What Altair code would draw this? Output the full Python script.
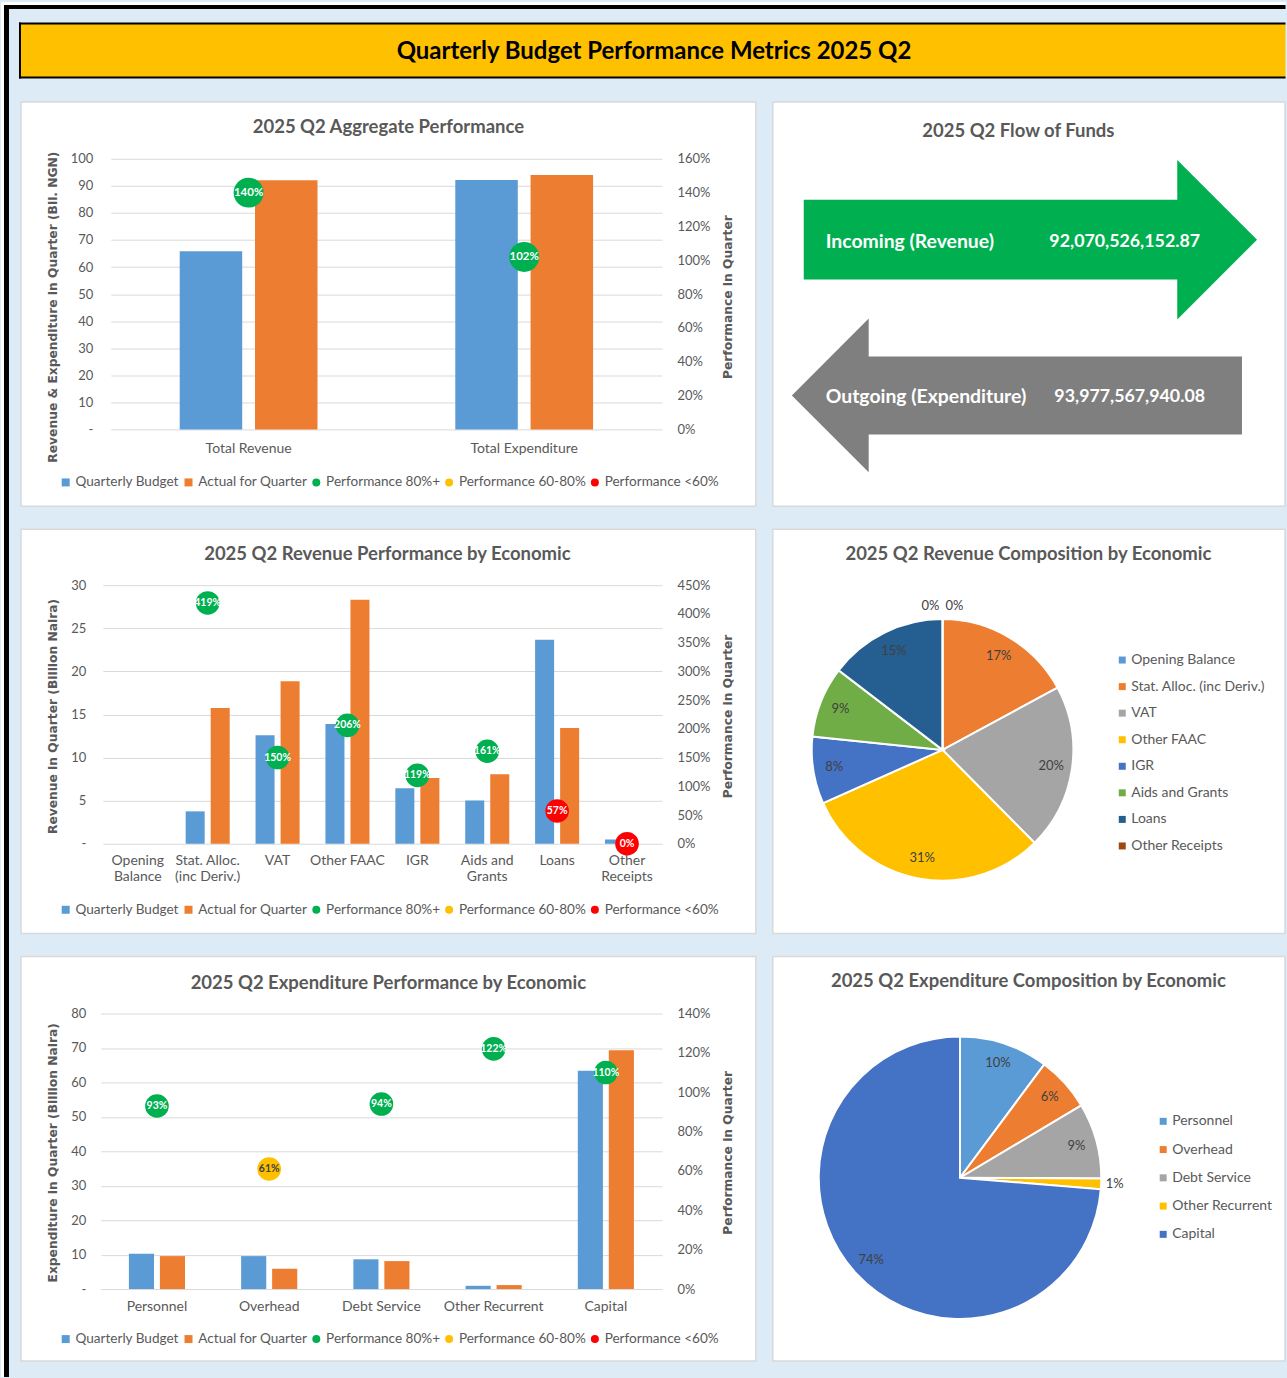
import altair as alt
import pandas as pd

# ---------------- data ----------------
report_title = "Quarterly Budget Performance Metrics 2025 Q2"

agg_categories = ["Total Revenue", "Total Expenditure"]
agg_budget = [65.8, 92.2]
agg_actual = [92.07, 93.98]
agg_perf = [1.40, 1.02]

rev_categories = ["Opening Balance", "Stat. Alloc. (inc Deriv.)", "VAT", "Other FAAC",
                  "IGR", "Aids and Grants", "Loans", "Other Receipts"]
rev_budget = [0.0, 3.76, 12.59, 13.9, 6.45, 5.02, 23.67, 0.5]
rev_actual = [0.0, 15.75, 18.84, 28.3, 7.64, 8.07, 13.44, 0.0]
rev_perf = [None, 4.19, 1.50, 2.06, 1.19, 1.61, 0.57, 0.0]

exp_categories = ["Personnel", "Overhead", "Debt Service", "Other Recurrent", "Capital"]
exp_budget = [10.24, 9.57, 8.64, 0.95, 63.4]
exp_actual = [9.57, 5.89, 8.12, 1.16, 69.3]
exp_perf = [0.93, 0.61, 0.94, 1.22, 1.10]

flow_labels = ["Incoming (Revenue)", "Outgoing (Expenditure)"]
flow_amounts = ["92,070,526,152.87", "93,977,567,940.08"]

series_names = ["Quarterly Budget", "Actual for Quarter"]
perf_levels = ["Performance 80%+", "Performance 60-80%", "Performance <60%"]
legend_keys = series_names + perf_levels
legend_colors = ["#5B9BD5", "#ED7D31", "#00B050", "#FFC000", "#FF0000"]
legend_shapes = ["square", "square", "circle", "circle", "circle"]

rev_colors = ["#5B9BD5", "#ED7D31", "#A5A5A5", "#FFC000", "#4472C4", "#70AD47", "#255E91", "#9E480E"]
exp_colors = ["#5B9BD5", "#ED7D31", "#A5A5A5", "#FFC000", "#4472C4"]

FONT = "Lato"
AXIS_TITLE_FONT = "DejaVu Sans"
GREY = "#595959"
PAGE_BG = "#DDEBF7"
TITLE_SIZE = 18.5


# ---------------- helpers ----------------
def level_of(p):
    if p >= 0.8:
        return perf_levels[0]
    if p >= 0.6:
        return perf_levels[1]
    return perf_levels[2]


def text_layer(text, x, y, size=TITLE_SIZE, weight="bold", color=GREY, align="center", font=FONT):
    return alt.Chart(pd.DataFrame({"t": [text]})).mark_text(
        font=font, fontSize=size, fontWeight=weight, color=color, align=align, baseline="middle"
    ).encode(x=alt.value(x), y=alt.value(y), text="t:N")


def rect_layer(x, x2, y, y2, fill):
    return alt.Chart(pd.DataFrame({"k": [0]})).mark_rect(color=fill, opacity=1).encode(
        x=alt.value(x), x2=alt.value(x2), y=alt.value(y), y2=alt.value(y2)
    )


def bar_panel(title, cats, budget, actual, perf, cfg, extra=()):
    W, H = cfg["W"], cfg["H"]
    x0, x1, ytop, ybot = cfg["plot"]
    n = len(cats)
    bars_df = pd.DataFrame({
        "category": list(cats) * 2,
        "key": [series_names[0]] * n + [series_names[1]] * n,
        "value": list(budget) + list(actual),
    })
    prow = [(c, p) for c, p in zip(cats, perf) if p is not None]
    perf_df = pd.DataFrame({
        "category": [c for c, _ in prow],
        "perf": [p for _, p in prow],
        "key": [level_of(p) for _, p in prow],
    })

    expr = "datum.label"
    for k, parts in reversed(list(cfg.get("wrap", {}).items())):
        arr = "[" + ",".join("'" + s + "'" for s in parts) + "]"
        expr = f"datum.label == '{k}' ? {arr} : ({expr})"

    x_enc = alt.X(
        "category:N", sort=list(cats), title=None,
        scale=alt.Scale(domain=list(cats), range=[x0, x1],
                        paddingInner=cfg["pi"], paddingOuter=cfg["pi"] / 2),
        axis=alt.Axis(orient="bottom", offset=-(H - ybot), labelAngle=0,
                      labelPadding=cfg["xlp"], labelExpr=expr, labelLineHeight=16,
                      domain=False, ticks=False, grid=False, labelOverlap=False,
                      labelFont=FONT, labelFontSize=14, labelColor=GREY, labelBaseline="top"),
    )

    leg = alt.Legend(title=None, orient="none", legendX=cfg["lx"], legendY=cfg["ly"],
                     direction="horizontal", labelFont=FONT, labelFontSize=13.6,
                     labelColor=GREY, symbolSize=64, symbolStrokeWidth=0,
                     columnPadding=2, labelOffset=3, padding=0)
    color_enc = alt.Color("key:N", scale=alt.Scale(domain=legend_keys, range=legend_colors), legend=leg)
    shape_enc = alt.Shape("key:N", scale=alt.Scale(domain=legend_keys, range=legend_shapes), legend=leg)

    yvals = [round(i * cfg["ystep"], 4) for i in range(int(round(cfg["ymax"] / cfg["ystep"])) + 1)]
    pvals = [round(i * cfg["pstep"], 4) for i in range(int(round(cfg["pmax"] / cfg["pstep"])) + 1)]

    bars = alt.Chart(bars_df).mark_bar(opacity=1).encode(
        x=x_enc,
        xOffset=alt.XOffset("key:N", sort=series_names,
                            scale=alt.Scale(domain=series_names, paddingInner=cfg["oi"], paddingOuter=0)),
        y=alt.Y("value:Q", title=cfg["ytitle"],
                scale=alt.Scale(domain=[0, cfg["ymax"]], range=[ybot, ytop], nice=False, zero=True),
                axis=alt.Axis(orient="left", offset=-x0, values=yvals, grid=True,
                              gridColor="#D9D9D9", gridWidth=1, domain=False, ticks=False,
                              labelPadding=cfg["ylp"],
                              labelExpr="datum.value == 0 ? '-' : datum.label",
                              labelFont=FONT, labelFontSize=13, labelColor=GREY,
                              titleFont=AXIS_TITLE_FONT, titleFontSize=12.3, titleFontWeight="bold",
                              titleColor=GREY, titleAngle=270, titleBaseline="middle",
                              titleAlign="center", titleX=cfg["ltx"] - x0, titleY=cfg["lty"])),
        color=color_enc,
    )

    y_perf = alt.Y("perf:Q", title="Performance in Quarter",
                   scale=alt.Scale(domain=[0, cfg["pmax"]], range=[ybot, ytop], nice=False, zero=True),
                   axis=alt.Axis(orient="right", offset=-(W - x1), values=pvals, format=".0%",
                                 grid=False, domain=False, ticks=False, labelPadding=15,
                                 labelFont=FONT, labelFontSize=13, labelColor=GREY,
                                 titleFont=AXIS_TITLE_FONT, titleFontSize=12.3, titleFontWeight="bold",
                                 titleColor=GREY, titleAngle=270, titleBaseline="middle",
                                 titleAlign="center", titleX=cfg["rtx"] - x1, titleY=cfg["rty"]))

    points = alt.Chart(perf_df).mark_point(filled=True, opacity=1, size=cfg["ps"], strokeWidth=0).encode(
        x=x_enc, y=y_perf, color=color_enc, shape=shape_enc
    )
    labels = alt.Chart(perf_df).mark_text(font=FONT, fontWeight="bold", fontSize=cfg["pf"],
                                          baseline="middle").encode(
        x=x_enc, y=y_perf, text=alt.Text("perf:Q", format=".0%"),
        color=alt.when(alt.datum.key == perf_levels[1]).then(alt.value("#404040")).otherwise(alt.value("white")),
    )

    layers = list(extra) + [text_layer(title, cfg["tx"], cfg["ty"]), bars, alt.layer(points, labels)]
    return alt.layer(*layers).resolve_scale(y="independent").properties(width=W, height=H)


def pie_panel(title, cats, values, colors, cfg):
    n = len(cats)
    df = pd.DataFrame({"category": list(cats), "value": list(values), "idx": list(range(n))})
    base = alt.Chart(df).transform_joinaggregate(total="sum(value)").transform_calculate(
        pct="datum.value / datum.total")
    theta = alt.Theta("value:Q", stack=True)
    order = alt.Order("idx:Q", sort="ascending")
    cx, cy = alt.value(cfg["cx"]), alt.value(cfg["cy"])
    leg = alt.Legend(title=None, orient="none", legendX=cfg["lx"], legendY=cfg["ly"],
                     direction="vertical", symbolType="square", symbolSize=49, symbolStrokeWidth=0,
                     labelFont=FONT, labelFontSize=14, labelColor=GREY, rowPadding=cfg["rp"],
                     labelOffset=2, padding=0)
    arcs = base.mark_arc(radius=cfg["r"], stroke="white", strokeWidth=2, opacity=1).encode(
        theta=theta, order=order,
        color=alt.Color("category:N", sort=list(cats), scale=alt.Scale(domain=list(cats), range=colors), legend=leg),
        x=cx, y=cy,
    )
    inner = base.transform_calculate(
        lab="datum.pct >= 0.02 ? format(datum.pct, '.0%') : ''"
    ).mark_text(radius=cfg["lr"], font=FONT, fontSize=13, color="#404040").encode(
        theta=theta, order=order, text="lab:N", x=cx, y=cy)
    layers = [text_layer(title, cfg["tx"], cfg["ty"]), arcs, inner]
    for cat, dx in cfg["outer"]:
        layers.append(base.transform_calculate(
            lab=f"datum.category == '{cat}' ? format(datum.pct, '.0%') : ''"
        ).mark_text(radius=cfg["or"], dx=dx, font=FONT, fontSize=13, color="#404040").encode(
            theta=theta, order=order, text="lab:N", x=cx, y=cy))
    return alt.layer(*layers).properties(width=cfg["W"], height=cfg["H"])


def flow_panel(cfg):
    df = pd.DataFrame({"flow": flow_labels, "amount": flow_amounts, "dir": ["in", "out"]})
    yenc = alt.Y("flow:N", scale=alt.Scale(type="point", domain=flow_labels,
                                           range=[cfg["y_in"], cfg["y_out"]], padding=0), axis=None)
    s = 227.0
    path_in = "M-1,-0.176L0.648,-0.176L0.648,-0.352L1,0L0.648,0.352L0.648,0.176L-1,0.176Z"
    path_out = "M0.993,-0.172L-0.654,-0.172L-0.654,-0.339L-0.993,0L-0.654,0.339L-0.654,0.172L0.993,0.172Z"
    arrow_in = alt.Chart(df).transform_filter("datum.dir == 'in'").mark_point(
        shape=path_in, size=(2 * s) ** 2, filled=True, color="#00B050", opacity=1, strokeWidth=0
    ).encode(x=alt.value(cfg["ax_in"]), y=yenc)
    arrow_out = alt.Chart(df).transform_filter("datum.dir == 'out'").mark_point(
        shape=path_out, size=(2 * s) ** 2, filled=True, color="#7F7F7F", opacity=1, strokeWidth=0
    ).encode(x=alt.value(cfg["ax_out"]), y=yenc)
    names = alt.Chart(df).mark_text(font=FONT, fontSize=19.4, fontWeight="bold", color="white",
                                    align="left", baseline="middle", dy=2).encode(
        x=alt.value(53), y=yenc, text="flow:N")
    amounts_in = alt.Chart(df).transform_filter("datum.dir == 'in'").mark_text(
        font=FONT, fontSize=17.8, fontWeight="bold", color="white",
        align="left", baseline="middle", dy=2).encode(
        x=alt.value(277), y=yenc, text="amount:N")
    amounts_out = alt.Chart(df).transform_filter("datum.dir == 'out'").mark_text(
        font=FONT, fontSize=17.8, fontWeight="bold", color="white",
        align="left", baseline="middle", dy=2).encode(
        x=alt.value(282), y=yenc, text="amount:N")
    return alt.layer(text_layer("2025 Q2 Flow of Funds", cfg["tx"], cfg["ty"]),
                     arrow_in, arrow_out, names, amounts_in, amounts_out).properties(width=cfg["W"], height=cfg["H"])


# ---------------- page decoration (drawn around panel 1, relative to its origin) ----------------
frame = [
    rect_layer(-20, -17, -100, 1277, "white"),
    rect_layer(-20, 1266.5, -100, -97, "white"),
    rect_layer(-17, -12, -97, 1277, "black"),
    rect_layer(-17, 1266.5, -97, -93, "black"),
    rect_layer(-1, 1266.5, -78, -25, "#FFC000"),
    rect_layer(-2, 1266.5, -79.5, -77.5, "black"),
    rect_layer(-2, 1266.5, -25.5, -23.5, "black"),
    rect_layer(-2, 0, -79.5, -23.5, "black"),
    text_layer(report_title, 634, -50, size=24, color="black"),
]

W1, W2, H = 736, 513, 405

p1 = bar_panel("2025 Q2 Aggregate Performance", agg_categories, agg_budget, agg_actual, agg_perf, dict(
    W=W1, H=H, plot=(90, 642, 57, 328), ymax=100, ystep=10, pmax=1.6, pstep=0.2,
    pi=0.5, oi=0.17, ps=900, pf=11.5, ylp=18, xlp=12, ltx=32, lty=205, rtx=708, rty=195,
    lx=38, ly=374, tx=368, ty=25, ytitle="Revenue & Expenditure in Quarter (Bil. NGN)"), extra=frame)

p2 = bar_panel("2025 Q2 Revenue Performance by Economic", rev_categories, rev_budget, rev_actual, rev_perf, dict(
    W=W1, H=H, plot=(82, 642, 56, 315), ymax=30, ystep=5, pmax=4.5, pstep=0.5,
    pi=0.37, oi=0.24, ps=560, pf=10.5, ylp=17, xlp=10, ltx=32, lty=187, rtx=708, rty=187,
    lx=38, ly=374, tx=367, ty=25, ytitle="Revenue in Quarter (Billion Naira)",
    wrap={"Opening Balance": ["Opening", "Balance"],
          "Stat. Alloc. (inc Deriv.)": ["Stat. Alloc.", "(inc Deriv.)"],
          "Aids and Grants": ["Aids and", "Grants"],
          "Other Receipts": ["Other", "Receipts"]}))

p3 = bar_panel("2025 Q2 Expenditure Performance by Economic", exp_categories, exp_budget, exp_actual, exp_perf, dict(
    W=W1, H=H, plot=(80, 642, 57, 333), ymax=80, ystep=10, pmax=1.4, pstep=0.2,
    pi=0.5, oi=0.19, ps=560, pf=10.5, ylp=15, xlp=10, ltx=32, lty=196, rtx=708, rty=196,
    lx=38, ly=376, tx=368, ty=26, ytitle="Expenditure in Quarter (Billion  Naira)"))

flow = flow_panel(dict(W=W2, H=H, tx=246, ty=29, y_in=138, y_out=294, ax_in=258, ax_out=244.5))

pie_rev = pie_panel("2025 Q2 Revenue Composition by Economic", rev_categories, rev_actual, rev_colors, dict(
    W=W2, H=H, tx=256, ty=25, cx=170, cy=221, r=131, lr=110, lx=343, ly=124, rp=12.6,
    outer=[("Opening Balance", 12), ("Other Receipts", -12)], **{"or": 144}))

pie_exp = pie_panel("2025 Q2 Expenditure Composition by Economic", exp_categories, exp_actual, exp_colors, dict(
    W=W2, H=H, tx=256, ty=24, cx=187.5, cy=221.5, r=141.5, lr=121, lx=384, ly=158, rp=14.3,
    outer=[("Other Recurrent", 0)], **{"or": 155}))

chart = alt.concat(
    p1, flow, p2, pie_rev, p3, pie_exp,
    columns=2, spacing={"row": 23, "column": 17}, bounds="flush",
).resolve_scale(
    color="independent", shape="independent", theta="independent",
    xOffset="independent", x="independent", y="independent"
).configure(
    background=PAGE_BG, padding=0
).configure_view(
    fill="white", stroke="#D9D9D9", strokeWidth=1.5
)

chart.save("out.html", embed_options={"renderer": "svg", "actions": False})
